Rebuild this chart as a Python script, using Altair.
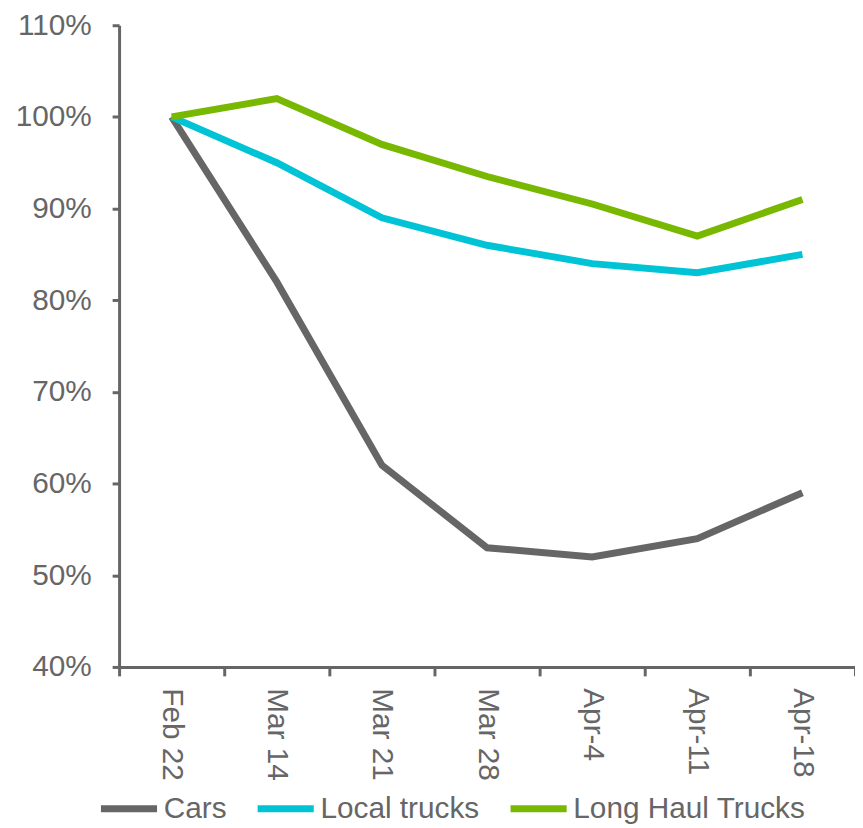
import altair as alt
import pandas as pd

weeks = ["Feb 22", "Mar 14", "Mar 21", "Mar 28", "Apr-4", "Apr-11", "Apr-18"]
series_names = ["Cars", "Local trucks", "Long Haul Trucks"]
cars = [1.00, 0.82, 0.62, 0.53, 0.52, 0.54, 0.59]
local_trucks = [1.00, 0.95, 0.89, 0.86, 0.84, 0.83, 0.85]
long_haul = [1.00, 1.02, 0.97, 0.935, 0.905, 0.87, 0.91]
colors = ["#666666", "#00C4D6", "#78B800"]

rows = []
for name, vals in zip(series_names, [cars, local_trucks, long_haul]):
    for w, v in zip(weeks, vals):
        rows.append({"week": w, "series": name, "value": v})
df = pd.DataFrame(rows)

text_color = "#666666"
fs = 30

chart = alt.Chart(df).mark_line(strokeWidth=7, strokeJoin="miter").encode(
    x=alt.X("week:N", sort=weeks, title=None,
            scale=alt.Scale(paddingInner=0, paddingOuter=0),
            axis=alt.Axis(labelAngle=90, labelAlign="left", labelBaseline="middle",
                          tickBand="extent", tickSize=9, labelPadding=12,
                          labelFontSize=fs, labelColor=text_color,
                          domainColor=text_color, tickColor=text_color,
                          domainWidth=3, tickWidth=3, grid=False,
                          labelFont="Liberation Sans")),
    y=alt.Y("value:Q", title=None,
            scale=alt.Scale(domain=[0.4, 1.1], nice=False, zero=False),
            axis=alt.Axis(format=".0%", values=[0.4, 0.5, 0.6, 0.7, 0.8, 0.9, 1.0, 1.1],
                          tickSize=7, labelPadding=21, labelFontSize=fs,
                          labelColor=text_color, domainColor=text_color,
                          tickColor=text_color, domainWidth=3, tickWidth=3,
                          grid=False, labelFont="Liberation Sans")),
    color=alt.Color("series:N", sort=series_names,
                    scale=alt.Scale(domain=series_names, range=colors),
                    legend=alt.Legend(title=None, orient="none", direction="horizontal",
                                      legendX=-22, legendY=758,
                                      symbolType="stroke", symbolSize=3200,
                                      symbolStrokeWidth=7, labelFontSize=fs,
                                      labelColor=text_color, labelFont="Liberation Sans",
                                      labelOffset=3, columnPadding=16,
                                      labelLimit=400)),
    order=alt.Order("series:N"),
).properties(
    width=742, height=647,
    autosize=alt.AutoSizeParams(type="none"),
    padding={"left": 112, "top": 14, "right": 0, "bottom": 158},
).configure(background="white").configure_view(strokeWidth=0)

chart.save("out.html", embed_options={"renderer": "svg", "actions": False})
